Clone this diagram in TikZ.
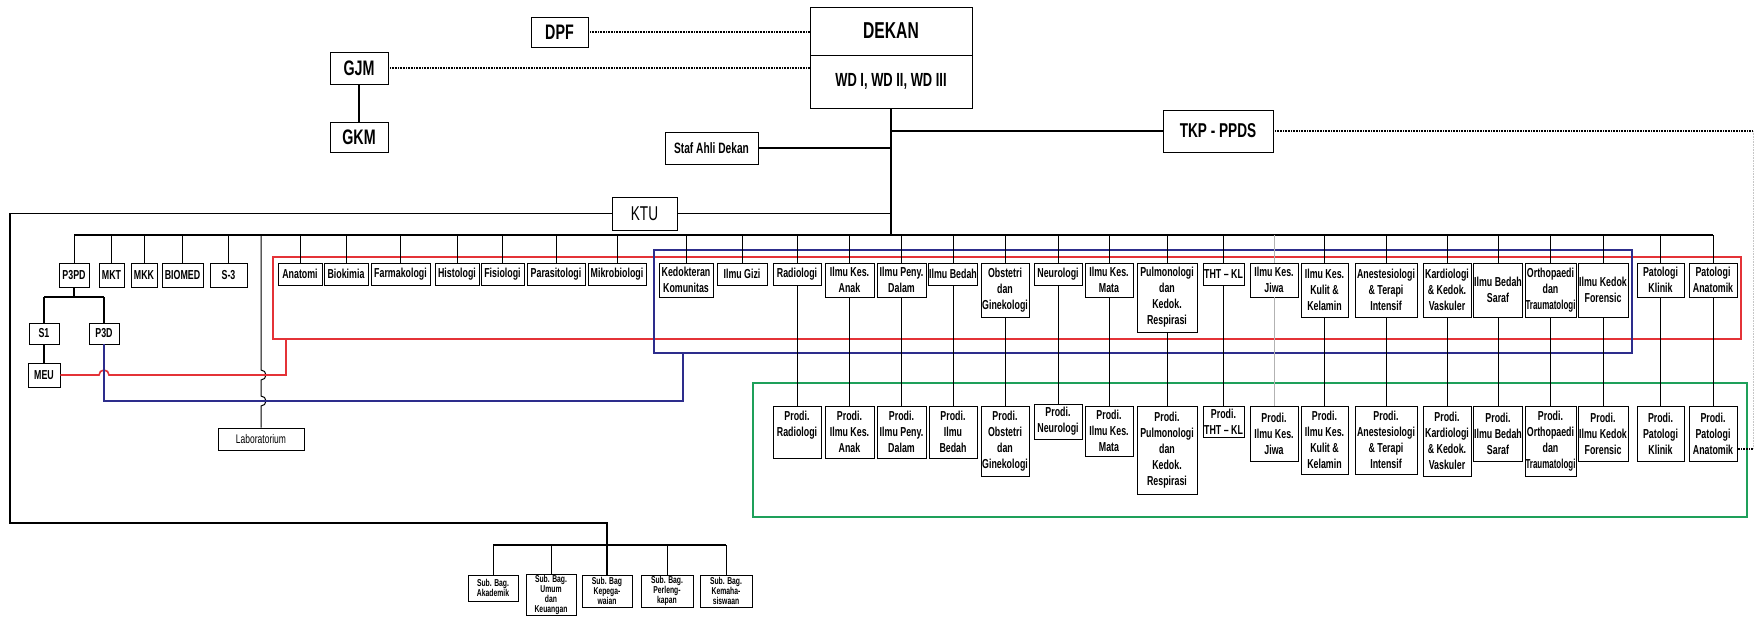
\documentclass[tikz,border=0pt]{standalone}
\usepackage{fontspec}
\setmainfont{Liberation Sans}[FakeStretch=0.68]
\usepackage{graphicx}
\definecolor{rframe}{RGB}{228,50,55}
\definecolor{bframe}{RGB}{45,45,140}
\definecolor{gframe}{RGB}{30,160,90}
\newcommand\tsq[1]{\scalebox{0.9}[1]{#1}}
\newcommand\bx[7][]{\node[ubox,#1,minimum width={(#5)-(#3)},minimum height={(#6)-(#4)}] (#2) at ({((#3)+(#5))/2},{((#4)+(#6))/2}) {#7};}
\tikzset{
  ubox/.style={draw, line width=0.9pt, fill=white, inner xsep=0.5pt, inner ysep=1pt, align=center, font=\fontsize{13}{16}\selectfont\bfseries},
  sbox/.style={font=\fontsize{10}{9.8}\selectfont\bfseries},
  bigf/.style={font=\fontsize{21}{24}\selectfont\bfseries},
  conn/.style={line width=1pt},
  fconn/.style={line width=0.7pt, gray!60},
  dots/.style={line width=1.6pt, dash pattern=on 0.8pt off 0.8pt},
  frame/.style={line width=1.6pt},
}
\begin{document}
\begin{tikzpicture}[x=1pt,y=-1pt]
\fill[white] (0,0) rectangle (1755,616);
\useasboundingbox (0,0) rectangle (1755,616);
% group frames
\draw[frame,rframe] (273,257) rectangle (1741,339);
\draw[frame,bframe] (654,250) rectangle (1632,353);
\draw[frame,gframe,line width=2.2pt] (753,383) rectangle (1747,517);
\coordinate (bus) at (0,235);
\coordinate (sbus) at (0,545);
% top
\bx[bigf]{dpf}{531}{17}{588}{47}{DPF}
\bx[bigf]{gjm}{330}{52}{388}{84}{GJM}
\bx[bigf]{gkm}{330}{122}{388}{152}{GKM}
\bx[font=\fontsize{23}{26}\selectfont\bfseries]{dekan}{810}{7}{972}{55}{DEKAN}
\bx[font=\fontsize{19}{22}\selectfont\bfseries]{wd}{810}{55}{972}{108}{WD I, WD II, WD III}
\bx[font=\fontsize{15}{18}\selectfont\bfseries]{staf}{665}{132}{758}{164}{Staf Ahli Dekan}
\bx[font=\fontsize{20}{22}\selectfont\bfseries]{tkp}{1163}{110}{1273}{152}{TKP - PPDS}
\bx[font=\fontsize{20}{22}\selectfont]{ktu}{612}{197}{677}{230}{KTU}
% left units
\bx{p3pd}{59}{263}{89}{287}{P3PD}
\bx{mkt}{99}{263}{124}{287}{MKT}
\bx{mkk}{131}{263}{157}{287}{MKK}
\bx{biomed}{162}{263}{203}{287}{BIOMED}
\bx{s3}{210}{263}{247}{287}{S-3}
\bx{s1}{29}{323}{59}{344}{S1}
\bx{p3d}{89}{323}{119}{344}{P3D}
\bx{meu}{28}{363}{60}{387}{MEU}
\bx[font=\fontsize{12.5}{14}\selectfont]{lab}{218}{428}{304}{450}{Laboratorium}
% departments
\bx{anatomi}{278}{263}{322}{285}{Anatomi}
\bx{biokimia}{324}{263}{368}{285}{Biokimia}
\bx{farmakologi}{371}{263}{430}{285}{Farmakologi}
\bx{histologi}{435}{263}{479}{285}{Histologi}
\bx{fisiologi}{481}{263}{524}{285}{Fisiologi}
\bx{parasitologi}{527}{263}{585}{285}{Parasitologi}
\bx{mikrobiologi}{588}{263}{646}{285}{Mikrobiologi}
\bx{kedkom}{659}{263}{713}{297}{Kedokteran\\Komunitas}
\bx{gizi}{717}{263}{767}{285}{Ilmu Gizi}
\bx{radiologi}{773}{263}{821}{285}{Radiologi}
\bx{anak}{825}{263}{874}{297}{Ilmu Kes.\\Anak}
\bx{dalam}{877}{263}{926}{297}{Ilmu Peny.\\Dalam}
\bx{bedah}{929}{263}{977}{285}{Ilmu Bedah}
\bx{obgin}{981}{263}{1029}{317}{Obstetri\\dan\\Ginekologi}
\bx{neuro}{1034}{263}{1082}{285}{Neurologi}
\bx{mata}{1085}{263}{1133}{297}{Ilmu Kes.\\Mata}
\bx{pulmo}{1137}{263}{1197}{332}{Pulmonologi\\dan\\Kedok.\\Respirasi}
\bx{tht}{1203}{263}{1244}{285}{THT -- KL}
\bx{jiwa}{1250}{263}{1298}{297}{Ilmu Kes.\\Jiwa}
\bx{kulit}{1301}{263}{1348}{317}{Ilmu Kes.\\Kulit \&\\Kelamin}
\bx{anes}{1355}{263}{1417}{317}{Anestesiologi\\\& Terapi\\Intensif}
\bx{kardio}{1423}{263}{1471}{317}{Kardiologi\\\& Kedok.\\Vaskuler}
\bx{bedsaraf}{1474}{263}{1522}{317}{Ilmu Bedah\\Saraf}
\bx{ortho}{1526}{263}{1575}{317}{Orthopaedi\\dan\\\tsq{Traumatologi}}
\bx{forensik}{1578}{263}{1628}{317}{Ilmu Kedok\\Forensic}
\bx{pk}{1637}{263}{1684}{297}{Patologi\\Klinik}
\bx{pa}{1689}{263}{1737}{297}{Patologi\\Anatomik}
% study programmes
\bx{pradiologi}{773}{406}{821}{458}{Prodi.\\Radiologi\\\mbox{}}
\bx{panak}{825}{406}{874}{458}{Prodi.\\Ilmu Kes.\\Anak}
\bx{pdalam}{877}{406}{926}{458}{Prodi.\\Ilmu Peny.\\Dalam}
\bx{pbedah}{929}{406}{977}{458}{Prodi.\\Ilmu\\Bedah}
\bx{pobgin}{981}{406}{1029}{476}{Prodi.\\Obstetri\\dan\\Ginekologi}
\bx{pneuro}{1034}{404}{1082}{439}{Prodi.\\Neurologi}
\bx{pmata}{1085}{406}{1133}{456}{Prodi.\\Ilmu Kes.\\Mata}
\bx{ppulmo}{1137}{406}{1197}{494}{Prodi.\\Pulmonologi\\dan\\Kedok.\\Respirasi}
\bx{ptht}{1203}{406}{1244}{437}{Prodi.\\THT -- KL}
\bx{pjiwa}{1250}{406}{1298}{461}{Prodi.\\Ilmu Kes.\\Jiwa}
\bx{pkulit}{1301}{406}{1348}{474}{Prodi.\\Ilmu Kes.\\Kulit \&\\Kelamin}
\bx{panes}{1355}{406}{1417}{474}{Prodi.\\Anestesiologi\\\& Terapi\\Intensif}
\bx{pkardio}{1423}{406}{1471}{476}{Prodi.\\Kardiologi\\\& Kedok.\\Vaskuler}
\bx{pbedsaraf}{1474}{406}{1522}{461}{Prodi.\\Ilmu Bedah\\Saraf}
\bx{portho}{1526}{406}{1575}{476}{Prodi.\\Orthopaedi\\dan\\\tsq{Traumatologi}}
\bx{pforensik}{1578}{406}{1628}{461}{Prodi.\\Ilmu Kedok\\Forensic}
\bx{ppk}{1637}{406}{1684}{461}{Prodi.\\Patologi\\Klinik}
\bx{ppa}{1689}{406}{1737}{461}{Prodi.\\Patologi\\Anatomik}
% sub-bagian
\bx[sbox]{akad}{468}{575}{518}{601}{Sub. Bag.\\Akademik}
\bx[sbox]{umum}{526}{575}{576}{615}{Sub. Bag.\\Umum\\dan\\Keuangan}
\bx[sbox]{kepeg}{582}{575}{632}{607}{Sub. Bag\\Kepega-\\waian}
\bx[sbox]{perl}{641}{575}{693}{607}{Sub. Bag.\\Perleng-\\kapan}
\bx[sbox]{kema}{700}{575}{752}{607}{Sub. Bag.\\Kemaha-\\siswaan}
% connectors: top
\draw[conn,line width=1.3pt] (gjm.south) -- (gkm.north);
\draw[dots] (dpf.east) -- (dpf.east -| dekan.west);
\draw[dots] (gjm.east) -- (gjm.east -| wd.west);
\draw[conn,line width=1.4pt] (wd.south) -- (wd.south |- bus);
\draw[conn,line width=1.3pt] (tkp.west) -- (tkp.west -| wd.south);
\draw[conn,line width=1.3pt] (staf.east) -- (staf.east -| wd.south);
\draw[conn,line width=1.3pt] (ktu.east) -- (ktu.east -| wd.south);
\draw[dots] (tkp.east) -- (1753,131);
\draw[dots,gray!45,line width=1pt] (1753,131) -- (1753,449);
\draw[dots] (1753,449) -- (ppa.east |- 0,449);
% KTU to sub-bagian
\draw[conn,line width=1.3pt] (ktu.west) -- (10,213.5) -- (10,523) -- (kepeg.north |- 0,523) -- (kepeg.north);
\draw[line width=2.4pt] (akad.north |- sbus) -- (kema.north |- sbus);
\foreach \n in {akad,umum,perl,kema} \draw[conn] (\n.north) -- (\n.north |- sbus);
% main bus
\draw[line width=1.6pt] (p3pd.north |- bus) -- (pa.north |- bus);
\foreach \n in {p3pd,mkt,mkk,biomed,s3,anatomi,biokimia,farmakologi,histologi,fisiologi,parasitologi,mikrobiologi,kedkom,gizi,radiologi,anak,dalam,bedah,obgin,neuro,mata,pulmo,tht,kulit,anes,kardio,bedsaraf,ortho,forensik,pk,pa}
  \draw[conn] (\n.north) -- (\n.north |- bus);
\draw[fconn] (jiwa.north) -- (jiwa.north |- bus);
\foreach \n in {radiologi,anak,dalam,bedah,obgin,neuro,mata,pulmo,tht,kulit,anes,kardio,bedsaraf,ortho,forensik,pk,pa}
  \draw[conn] (\n.south) -- (p\n.north);
\draw[fconn] (jiwa.south) -- (pjiwa.north);
% P3PD branch
\draw[line width=1.8pt] (p3pd.south) -- (p3pd.south |- 0,297);
\draw[line width=1.8pt] (s1.north |- 0,297) -- (p3d.north |- 0,297);
\draw[line width=1.8pt] (s1.north) -- (s1.north |- 0,297);
\draw[line width=1.8pt] (p3d.north) -- (p3d.north |- 0,297);
\draw[line width=1.8pt] (s1.south) -- (meu.north);
% laboratorium line with jumps
\draw[conn] (lab.north |- bus) -- (261,370) arc[start angle=90,end angle=-90,radius=5pt] -- (261,396) arc[start angle=90,end angle=-90,radius=5pt] -- (lab.north);
% coloured links
\draw[rframe,line width=1.6pt] (meu.east) -- (99,375) arc[start angle=180,end angle=0,radius=5pt] -- (286,375) -- (286,339);
\draw[bframe,line width=1.6pt] (p3d.south) -- (104,401) -- (683,401) -- (683,353);
\end{tikzpicture}
\end{document}
